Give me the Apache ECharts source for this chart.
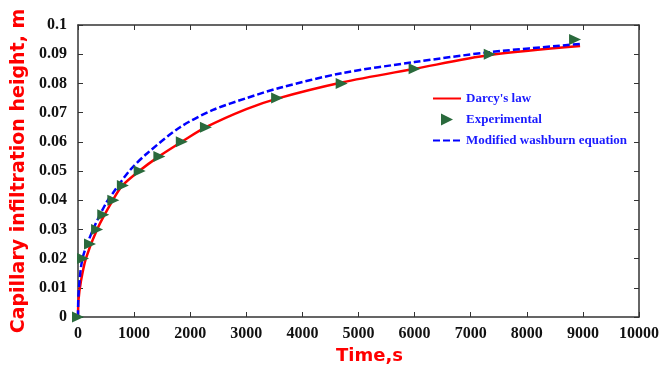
<!DOCTYPE html>
<html><head><meta charset="utf-8">
<script src="https://cdn.jsdelivr.net/npm/echarts@6/dist/echarts.min.js"></script>
<style>html,body{margin:0;padding:0;background:#fff}#c{width:661px;height:366px}</style>
</head><body><div id="c"></div>
<script>
// Darcy's law curve (time s, height m)
var darcyT = [0, 10, 50, 140, 340, 620, 790, 1090, 1445, 1850, 2280, 3000, 3550, 4700, 6000, 7340, 8950];
var darcyH = [0, 0.006, 0.012, 0.02, 0.03, 0.04, 0.045, 0.05, 0.055, 0.06, 0.065, 0.0712, 0.0748, 0.0803, 0.085, 0.0897, 0.0928];
// Modified washburn equation curve
var washT = [0, 10, 80, 270, 500, 624, 927, 1230, 1820, 2406, 3010, 3600, 4700, 6000, 7340, 8950];
var washH = [0, 0.008, 0.02, 0.03, 0.039, 0.0425, 0.0503, 0.056, 0.065, 0.0709, 0.075, 0.0785, 0.0835, 0.0873, 0.0907, 0.0935];
// Experimental points
var expT = [0, 90, 214, 340, 450, 630, 800, 1100, 1450, 1850, 2280, 3550, 4700, 6000, 7340, 8860];
var expH = [0, 0.02, 0.025, 0.03, 0.035, 0.04, 0.045, 0.05, 0.055, 0.06, 0.065, 0.075, 0.08, 0.085, 0.09, 0.095];

function pairs(a, b) { return a.map(function (v, i) { return [v, b[i]]; }); }
var tri = 'path://M0,0 L10,5 L0,10 Z';
var axisColor = '#333';
var labelFont = { fontFamily: 'Liberation Serif', fontWeight: 'bold', fontSize: 16, color: '#111' };
var hidden = { color: 'rgba(0,0,0,0)', borderColor: 'rgba(0,0,0,0)', borderWidth: 0 };

var chart = echarts.init(document.getElementById('c'));
chart.setOption({
  animation: false,
  backgroundColor: '#fff',
  grid: { left: 78, right: 22, top: 25, bottom: 49, containLabel: false, outerBoundsMode: 'none' },
  legend: {
    orient: 'vertical', left: 427, top: 87,
    itemWidth: 28, itemHeight: 12, itemGap: 8,
    textStyle: { fontFamily: 'Liberation Serif', fontWeight: 'bold', fontSize: 13, color: '#1a1aff' },
    data: [
      { name: "Darcy's law", itemStyle: hidden },
      { name: 'Experimental', icon: tri, itemStyle: { color: '#2a6a3c', opacity: 1 } },
      { name: 'Modified washburn equation', itemStyle: hidden }
    ]
  },
  xAxis: [{
    type: 'value', min: 0, max: 10000, interval: 1000,
    name: 'Time,s', nameLocation: 'middle', nameGap: 27,
    nameTextStyle: { fontFamily: 'DejaVu Sans', fontWeight: 'bold', fontSize: 18, color: '#ff0000', padding: [0, 0, 0, 22] },
    axisLine: { show: true, lineStyle: { color: axisColor, width: 1.5 } },
    axisTick: { show: true, inside: true, length: 5, lineStyle: { color: axisColor } },
    axisLabel: Object.assign({ margin: 9, formatter: function (v) { return String(v); } }, labelFont),
    splitLine: { show: false }
  }, {
    type: 'value', position: 'top', min: 0, max: 10000, interval: 1000,
    axisLine: { show: true, onZero: false, lineStyle: { color: axisColor, width: 1.5 } },
    axisTick: { show: true, inside: true, length: 5, lineStyle: { color: axisColor } },
    axisLabel: { show: false }, splitLine: { show: false }
  }],
  yAxis: [{
    type: 'value', min: 0, max: 0.1, interval: 0.01,
    name: 'Capillary infiltration height, m', nameLocation: 'middle', nameGap: 41,
    nameTextStyle: { fontFamily: 'DejaVu Sans', fontWeight: 'bold', fontSize: 19, color: '#ff0000' },
    axisLine: { show: true, lineStyle: { color: axisColor, width: 1.5 } },
    axisTick: { show: true, inside: true, length: 5, lineStyle: { color: axisColor } },
    axisLabel: Object.assign({ margin: 11, formatter: function (v) { return v === 0 ? '0' : String(+v.toFixed(2)); } }, labelFont),
    splitLine: { show: false }
  }, {
    type: 'value', position: 'right', min: 0, max: 0.1, interval: 0.01,
    axisLine: { show: true, onZero: false, lineStyle: { color: axisColor, width: 1.5 } },
    axisTick: { show: true, inside: true, length: 5, lineStyle: { color: axisColor } },
    axisLabel: { show: false }, splitLine: { show: false }
  }],
  series: [{
    name: "Darcy's law", type: 'line', smooth: 0.3, showSymbol: false, symbol: 'none',
    data: pairs(darcyT, darcyH), color: '#ff0000',
    lineStyle: { color: '#ff0000', width: 2.5 }, z: 2
  }, {
    name: 'Modified washburn equation', type: 'line', smooth: 0.3, showSymbol: false, symbol: 'none',
    data: pairs(washT, washH), color: '#0000ff',
    lineStyle: { color: '#0000ff', width: 2.5, type: [7, 3] }, z: 3
  }, {
    name: 'Experimental', type: 'scatter', symbol: tri, symbolSize: [12, 11],
    data: pairs(expT, expH), color: '#2a6a3c',
    itemStyle: { color: '#2a6a3c', opacity: 1 }, z: 5
  }]
});
</script></body></html>
